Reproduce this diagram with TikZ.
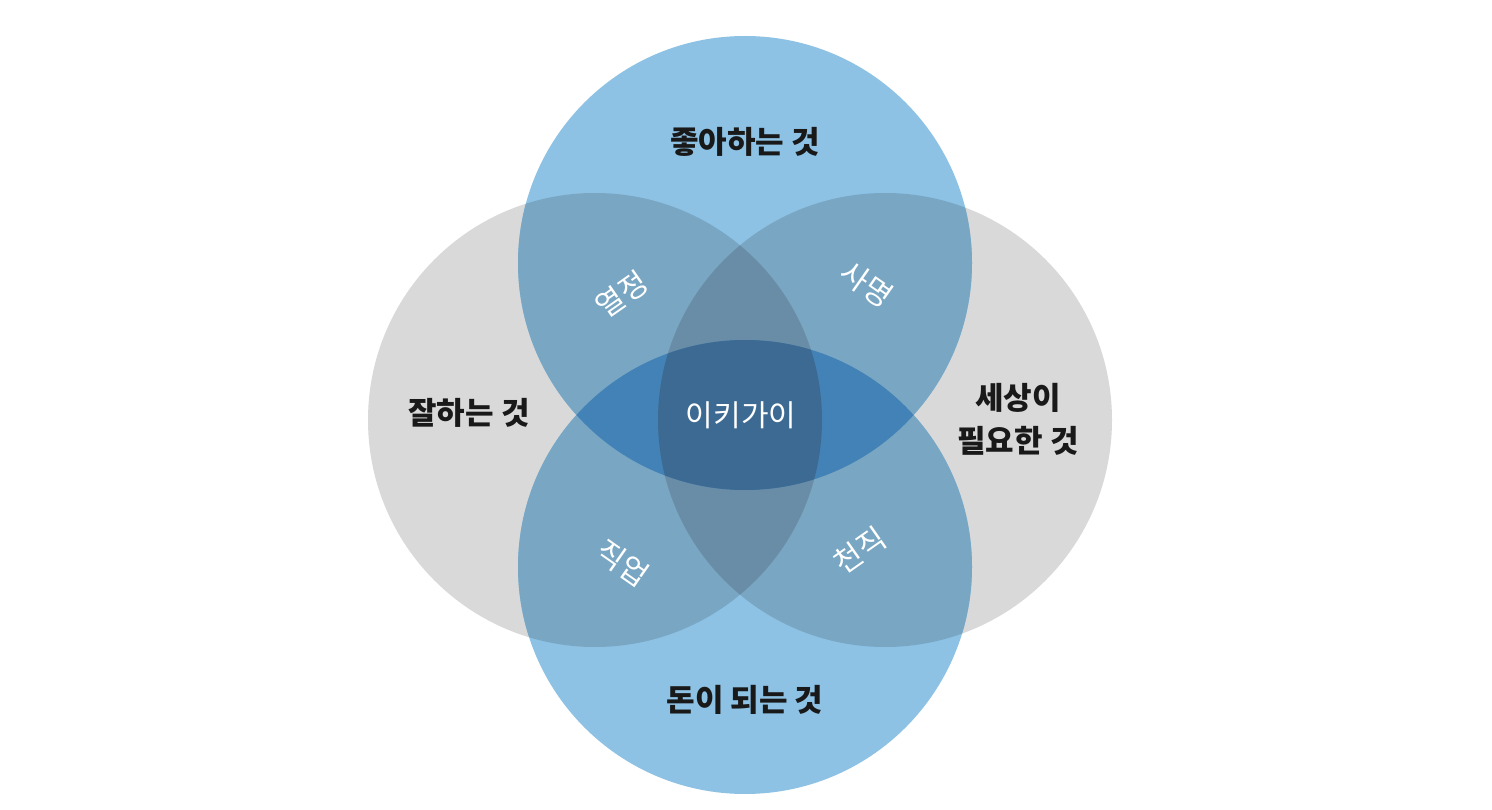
\documentclass[tikz,border=0pt]{standalone}
\usepackage{fontspec}
\newfontfamily\kr{Noto Sans CJK KR}
\definecolor{cblue}{HTML}{8DC2E5}
\definecolor{cgray}{HTML}{D9D9D9}
\definecolor{cbg}{HTML}{79A6C2}
\definecolor{cggb}{HTML}{6A8DA7}
\definecolor{cbb}{HTML}{4382B6}
\definecolor{ccen}{HTML}{3D6A92}
\tikzset{
  big/.style={font=\kr\bfseries\fontsize{31}{43}\selectfont, text=black!90, align=center, inner sep=0pt},
  small/.style={font=\kr\fontsize{30}{34}\selectfont, text=white, inner sep=0pt},
}
\begin{document}
\begin{tikzpicture}[x=1pt,y=-1pt]
\useasboundingbox (0,0) rectangle (1492,810);
\fill[white] (0,0) rectangle (1492,810);
\def\rr{227}
\def\cT{(745,263) circle (\rr)}
\def\cB{(745,567) circle (\rr)}
\def\cL{(595,420) circle (\rr)}
\def\cR{(885,420) circle (\rr)}
% single circles
\fill[cgray] \cL;
\fill[cgray] \cR;
\fill[cblue] \cT;
\fill[cblue] \cB;
% blue over gray
\begin{scope}\clip \cT; \fill[cbg] \cL; \fill[cbg] \cR; \end{scope}
\begin{scope}\clip \cB; \fill[cbg] \cL; \fill[cbg] \cR; \end{scope}
% gray+gray+blue
\begin{scope}\clip \cL; \clip \cR; \fill[cggb] \cT; \fill[cggb] \cB; \end{scope}
% blue+blue
\begin{scope}\clip \cT; \fill[cbb] \cB; \end{scope}
% center
\begin{scope}\clip \cT; \clip \cB; \clip \cL; \fill[ccen] \cR; \end{scope}
% labels
\node[big] (like) at (745,142) {좋아하는 것};
\node[big] (good) at (469,413) {잘하는 것};
\node[big] (need) at (1018,419) {세상이\\필요한 것};
\node[big] (paid) at (745,700) {돈이 되는 것};
\node[small] (ikigai) at (741,415) {이키가이};
\node[small, rotate=35] (passion) at (622,294) {열정};
\node[small, rotate=-35] (mission) at (867,284) {사명};
\node[small, rotate=-35] (profession) at (623,563) {직업};
\node[small, rotate=35] (vocation) at (860,550) {천직};
\end{tikzpicture}
\end{document}
